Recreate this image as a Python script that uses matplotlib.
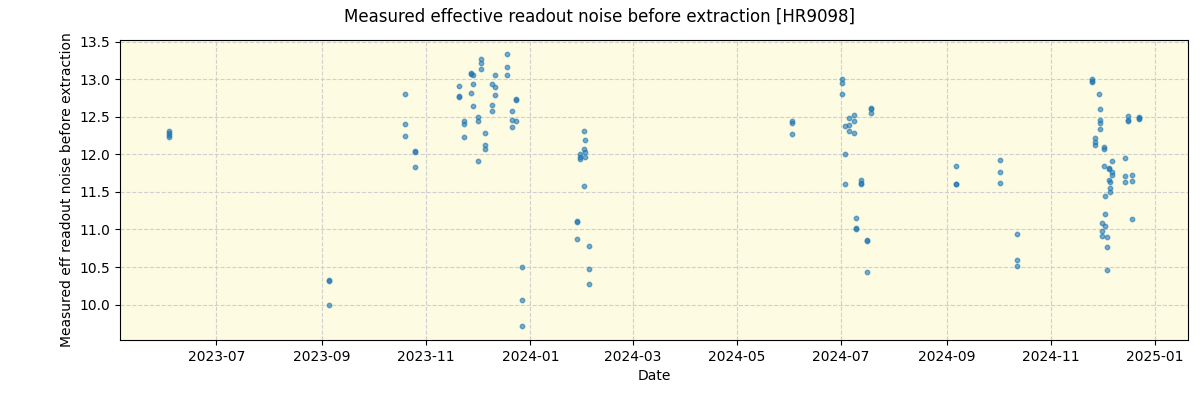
import matplotlib
matplotlib.use("Agg")
import matplotlib.pyplot as plt
import matplotlib.dates as mdates
import pandas as pd

dates = [
    "2023-06-03", "2023-06-03", "2023-06-03", "2023-06-03",
    "2023-09-05", "2023-09-05", "2023-09-05",
    "2023-10-19 09:00", "2023-10-19 09:00", "2023-10-19 09:00",
    "2023-10-25 06:00", "2023-10-25 06:00", "2023-10-25 06:00",
    "2023-11-20 02:00", "2023-11-20 02:00", "2023-11-20 02:00",
    "2023-11-23 01:00", "2023-11-23 01:00", "2023-11-23 01:00",
    "2023-11-27 03:00", "2023-11-27 03:00", "2023-11-27 03:00",
    "2023-11-28 07:00", "2023-11-28 07:00", "2023-11-28 07:00",
    "2023-12-01 05:00", "2023-12-01 05:00", "2023-12-01 05:00",
    "2023-12-03", "2023-12-03", "2023-12-03",
    "2023-12-05 08:00", "2023-12-05 08:00", "2023-12-05 08:00",
    "2023-12-09 10:00", "2023-12-09 10:00", "2023-12-09 10:00",
    "2023-12-11 05:00", "2023-12-11 05:00", "2023-12-11 05:00",
    "2023-12-18 05:00", "2023-12-18 05:00", "2023-12-18 05:00",
    "2023-12-21 02:00", "2023-12-21 02:00", "2023-12-21 02:00",
    "2023-12-23 12:00", "2023-12-23 12:00", "2023-12-23 12:00",
    "2023-12-27", "2023-12-27", "2023-12-27",
    "2024-01-28 07:00", "2024-01-28 07:00", "2024-01-28 07:00",
    "2024-01-30", "2024-01-30", "2024-01-30",
    "2024-02-01 10:00", "2024-02-01 10:00", "2024-02-01 10:00",
    "2024-02-02", "2024-02-02", "2024-02-02",
    "2024-02-04 07:00", "2024-02-04 07:00", "2024-02-04 07:00",
    "2024-06-02 07:00", "2024-06-02 07:00", "2024-06-02 07:00",
    "2024-07-01 14:00", "2024-07-01 14:00", "2024-07-01 14:00",
    "2024-07-03 10:00", "2024-07-03 10:00", "2024-07-03 10:00",
    "2024-07-05 17:00", "2024-07-05 17:00", "2024-07-05 17:00",
    "2024-07-08 17:00", "2024-07-08 17:00", "2024-07-08 17:00",
    "2024-07-09 22:00", "2024-07-09 22:00", "2024-07-09 22:00",
    "2024-07-12 19:00", "2024-07-12 19:00", "2024-07-12 19:00",
    "2024-07-16 07:00", "2024-07-16 07:00", "2024-07-16 07:00",
    "2024-07-18 14:00", "2024-07-18 14:00", "2024-07-18 14:00",
    "2024-09-06 12:00", "2024-09-06 12:00", "2024-09-06 12:00",
    "2024-10-02 07:00", "2024-10-02 07:00", "2024-10-02 07:00",
    "2024-10-12 05:00", "2024-10-12 05:00", "2024-10-12 05:00",
    "2024-11-25 05:00", "2024-11-25 05:00", "2024-11-25 05:00",
    "2024-11-27", "2024-11-27", "2024-11-27",
    "2024-11-29 07:00", "2024-11-29 22:00", "2024-11-29 22:00",
    "2024-11-29 22:00", "2024-11-29 22:00",
    "2024-12-01 02:00", "2024-12-01 02:00", "2024-12-01 02:00",
    "2024-12-02 07:00", "2024-12-02 07:00", "2024-12-02 07:00",
    "2024-12-02 19:00", "2024-12-02 19:00", "2024-12-02 19:00",
    "2024-12-04", "2024-12-04", "2024-12-04",
    "2024-12-05 05:00", "2024-12-05 05:00", "2024-12-05 05:00",
    "2024-12-05 19:00", "2024-12-05 19:00", "2024-12-05 19:00",
    "2024-12-06 22:00", "2024-12-06 22:00", "2024-12-06 22:00",
    "2024-12-14 02:00", "2024-12-14 02:00", "2024-12-14 02:00",
    "2024-12-16", "2024-12-16", "2024-12-16",
    "2024-12-18 05:00", "2024-12-18 05:00", "2024-12-18 05:00",
    "2024-12-22 19:00", "2024-12-22 19:00", "2024-12-22 19:00",
]

noise = [
    12.31, 12.29, 12.26, 12.23,
    10.33, 10.32, 9.99,
    12.80, 12.41, 12.24,
    12.05, 12.03, 11.83,
    12.91, 12.77, 12.76,
    12.45, 12.40, 12.23,
    13.08, 13.07, 12.81,
    13.05, 12.93, 12.64,
    12.49, 12.44, 11.91,
    13.27, 13.22, 13.14,
    12.28, 12.12, 12.07,
    12.93, 12.66, 12.58,
    13.05, 12.89, 12.79,
    13.34, 13.16, 13.06,
    12.58, 12.46, 12.36,
    12.73, 12.72, 12.44,
    10.50, 10.06, 9.71,
    11.11, 11.10, 10.87,
    12.01, 11.96, 11.94,
    12.31, 12.07, 11.58,
    12.19, 12.03, 11.96,
    10.78, 10.47, 10.27,
    12.45, 12.42, 12.27,
    13.00, 12.95, 12.80,
    12.38, 12.00, 11.60,
    12.48, 12.39, 12.31,
    12.52, 12.44, 12.28,
    11.15, 11.02, 11.01,
    11.66, 11.62, 11.61,
    10.86, 10.85, 10.43,
    12.61, 12.60, 12.55,
    11.84, 11.61, 11.60,
    11.92, 11.76, 11.62,
    10.94, 10.59, 10.51,
    13.00, 12.97, 12.96,
    12.22, 12.16, 12.12,
    12.80, 12.60, 12.46,
    12.42, 12.34,
    11.08, 10.98, 10.91,
    12.10, 12.07, 11.84,
    11.44, 11.20, 11.04,
    10.90, 10.76, 10.46,
    11.82, 11.81, 11.66,
    11.63, 11.55, 11.50,
    11.91, 11.76, 11.72,
    11.95, 11.71, 11.63,
    12.51, 12.46, 12.45,
    11.72, 11.64, 11.14,
    12.50, 12.48, 12.47,
]

title = "Measured effective readout noise before extraction [HR9098]"
xlabel = "Date"
ylabel = "Measured eff readout noise before extraction"

x = pd.to_datetime(dates, format="mixed")

fig = plt.figure(figsize=(12, 4), dpi=100)
ax = fig.add_axes([0.1, 0.15, 0.89, 0.75])
ax.set_facecolor("#fdfbe2")
ax.plot(x, noise, "o", color="tab:blue", markersize=3.2, alpha=0.6, linestyle="none")
ax.grid(True, linestyle="--", color="#d0d0d0", linewidth=0.8)
ax.set_axisbelow(True)
ax.xaxis.set_major_locator(mdates.MonthLocator(bymonth=[1, 3, 5, 7, 9, 11]))
ax.xaxis.set_major_formatter(mdates.DateFormatter("%Y-%m"))
ax.set_xlabel(xlabel)
ax.set_ylabel(ylabel)
fig.suptitle(title, fontsize=12, y=0.98)
fig.savefig("out.png", dpi=100)
